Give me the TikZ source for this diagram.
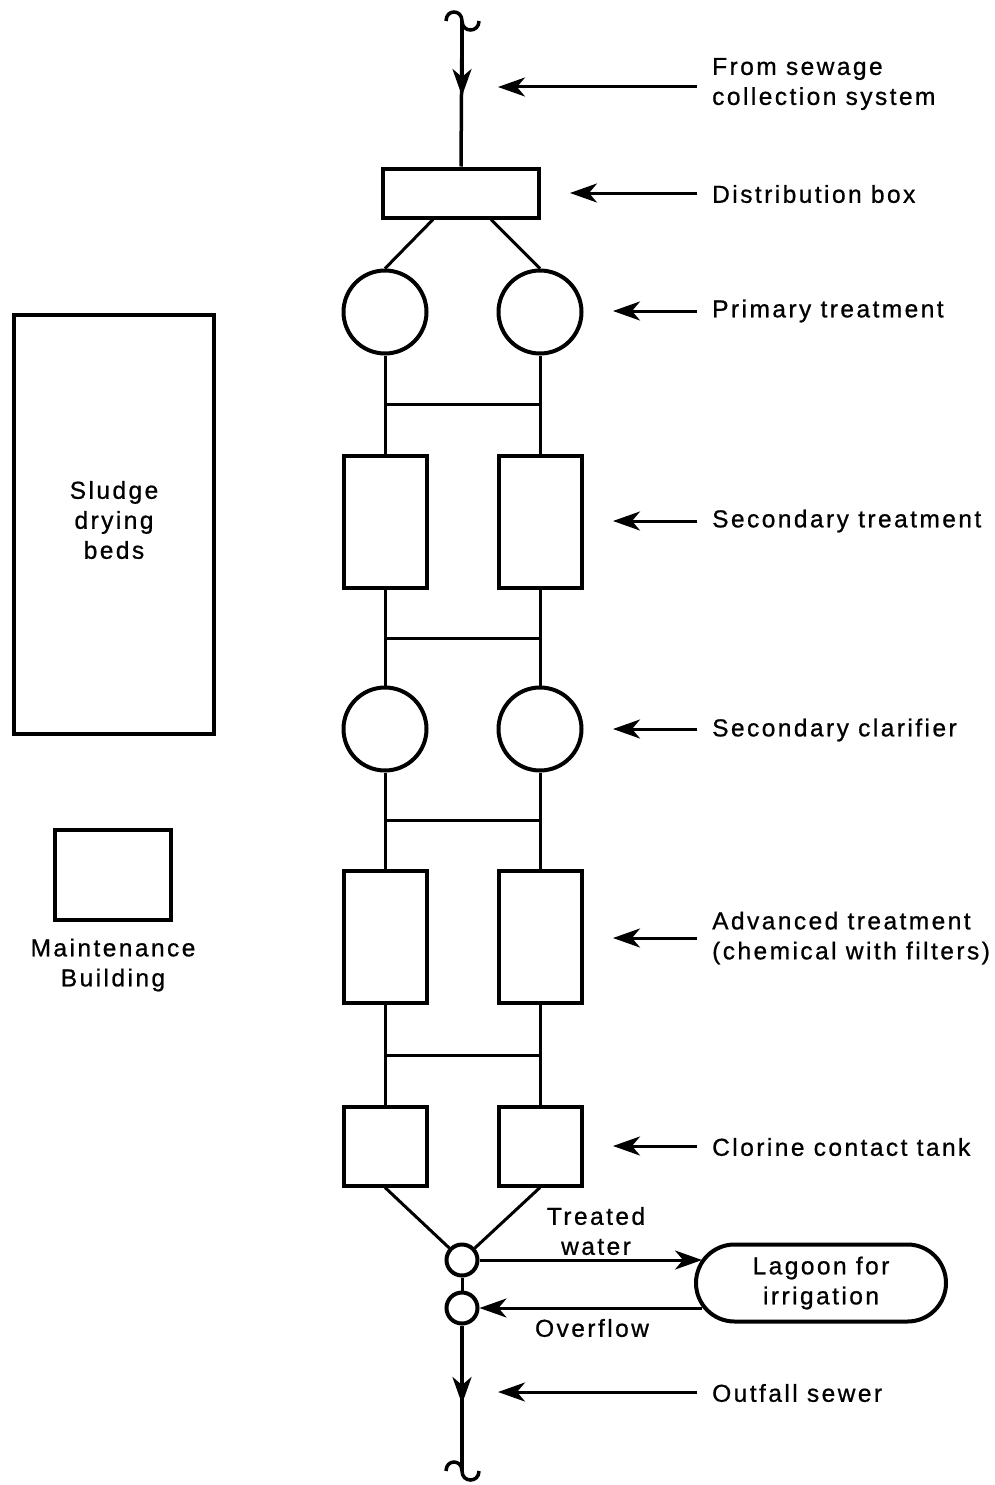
\documentclass[tikz,border=0pt]{standalone}
\usepackage{fontspec}
\setmainfont{Liberation Sans}[LetterSpace=10,FakeBold=0.8]
\usetikzlibrary{arrows.meta,shapes.misc}
\begin{document}
\begin{tikzpicture}[x=1pt,y=-1pt,
  every node/.style={font=\fontsize{24.5}{30}\selectfont},
  unit/.style={draw,line width=4pt,inner sep=0pt},
  tank/.style={unit,circle,minimum size=83pt},
  basin/.style={unit,rectangle,minimum width=83pt,minimum height=132pt},
  contact/.style={unit,rectangle,minimum width=83pt,minimum height=79pt},
  junction/.style={unit,circle,minimum size=31pt},
  pipe/.style={line width=3.5pt},
  link/.style={line width=3pt},
  ptr/.style={line width=3pt,-{Stealth[length=27pt,width=19pt,inset=8pt]}},
  lbl/.style={anchor=west,align=left,inner sep=0pt},
  mid/.style={align=center,inner sep=0pt}]
\useasboundingbox (0,0) rectangle (994,1485);

% process units
\node[unit,minimum width=156pt,minimum height=49pt] (db) at (461,193) {};
\node[tank] (pl) at (385,312) {};
\node[tank] (pr) at (540,312) {};
\node[basin] (sl) at (385,522) {};
\node[basin] (sr) at (540,522) {};
\node[tank] (cl) at (385,729) {};
\node[tank] (cr) at (540,729) {};
\node[basin] (al) at (385,937) {};
\node[basin] (ar) at (540,937) {};
\node[contact] (tl) at (385,1146) {};
\node[contact] (tr) at (540,1146) {};
\node[junction] (oa) at (462,1260) {};
\node[junction] (ob) at (462,1308) {};
\node[unit,rounded rectangle,minimum width=250pt,minimum height=77pt,mid] (lag) at (821,1283) {Lagoon for\\irrigation};

% site buildings
\node[unit,rectangle,minimum width=200pt,minimum height=419pt] (sb) at (114,524) {};
\node[mid] (sbl) at (114,520) {Sludge\\drying\\beds};
\node[unit,rectangle,minimum width=116pt,minimum height=90pt] (mb) at (113,875) {};
\node[mid] (mbl) at (113,965) {Maintenance\\Building};

% inflow line with break symbol
\coordinate (top) at (462,21);
\coordinate (inarr) at (462,96);
\draw[pipe] (446,21) .. controls (446,9) and (462,9) .. (top)
  .. controls (462,33) and (479,33) .. (479,21);
\draw[pipe] (top) -- (db.north);
\draw[ptr,line width=3.5pt] (top) -- (inarr);

% distribution to primary tanks
\draw[link] (db.south west) ++(52pt,0) -- (pl.north);
\draw[link] (db.south east) ++(-50pt,0) -- (pr.north);

% parallel trains with cross connections
\coordinate (h1) at (0,404);
\coordinate (h2) at (0,638);
\coordinate (h3) at (0,820);
\coordinate (h4) at (0,1055);
\foreach \a/\b in {pl/sl,pr/sr,sl/cl,sr/cr,cl/al,cr/ar,al/tl,ar/tr}
  \draw[link] (\a) -- (\b);
\foreach \h/\a/\b in {h1/pl/pr,h2/sl/sr,h3/cl/cr,h4/al/ar}
  \draw[link] (\a |- \h) -- (\b |- \h);

% collection and split
\draw[link] (tl.south) -- (oa);
\draw[link] (tr.south) -- (oa);
\draw[link] (oa) -- (ob);
\coordinate (twin) at (702,1260);
\coordinate (ovout) at (702,1308);
\draw[ptr] (oa) -- (twin);
\draw[ptr] (ovout) -- (ob);
\node[mid] (twl) at (596,1231) {Treated\\water};
\node[mid] (ovl) at (592,1328) {Overflow};

% outfall with break symbol
\coordinate (outarr) at (462,1404);
\coordinate (bot) at (462,1471);
\draw[pipe] (ob) -- (bot);
\draw[ptr,line width=3.5pt] (ob) -- (outarr);
\draw[pipe] (446,1471) .. controls (446,1459) and (462,1459) .. (bot)
  .. controls (462,1483) and (479,1483) .. (479,1471);

% labels with pointers
\node[lbl] (l1) at (712,84) {From sewage\\collection system};
\node[lbl] (l2) at (712,194) {Distribution box};
\node[lbl] (l3) at (712,311) {Primary treatment};
\node[lbl] (l4) at (712,521) {Secondary treatment};
\node[lbl] (l5) at (712,730) {Secondary clarifier};
\node[lbl] (l6) at (712,938) {Advanced treatment\\(chemical with filters)};
\node[lbl] (l7) at (712,1147) {Clorine contact tank};
\node[lbl] (l8) at (712,1393) {Outfall sewer};

\coordinate (p1) at (498,87);
\coordinate (p2) at (570,193);
\coordinate (p3) at (613,311);
\coordinate (p4) at (613,521);
\coordinate (p5) at (613,729);
\coordinate (p6) at (613,938);
\coordinate (p7) at (613,1146);
\coordinate (p8) at (498,1392);
\foreach \i in {1,...,8}
  \draw[ptr] (697,0 |- p\i) -- (p\i);
\end{tikzpicture}
\end{document}
